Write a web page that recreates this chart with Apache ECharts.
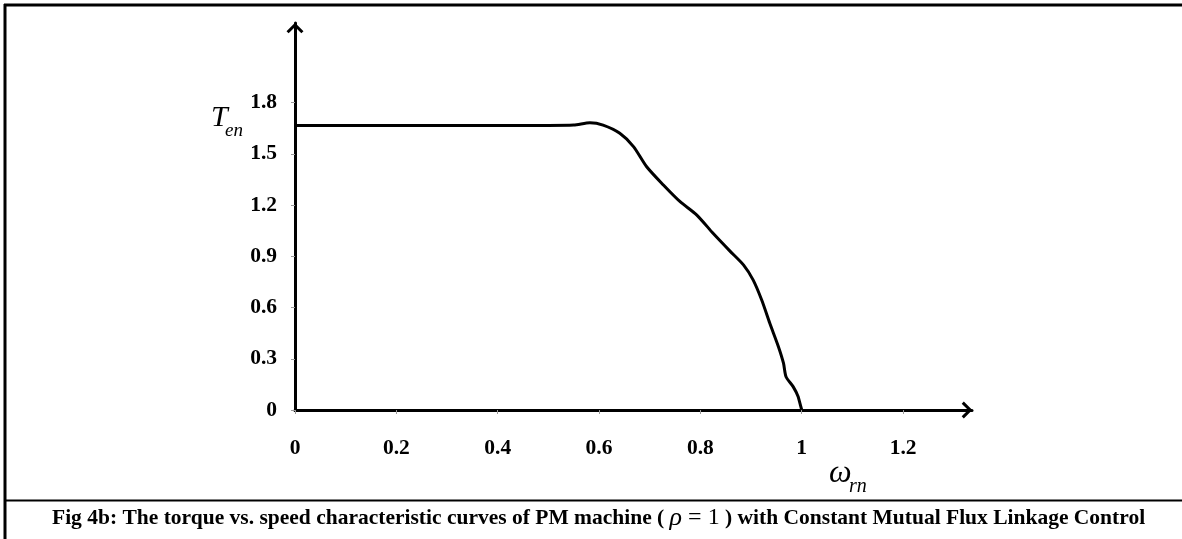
<!DOCTYPE html>
<html><head><meta charset="utf-8">
<script src="https://cdn.jsdelivr.net/npm/echarts@6/dist/echarts.min.js"></script>
<style>html,body{margin:0;padding:0;background:#fff}#c{width:1182px;height:539px}</style>
</head><body><div id="c"></div>
<script>
// normalised rotor speed (x) and normalised torque (y)
const speed  = [0, 0.1, 0.2, 0.3, 0.4, 0.5, 0.55, 0.582, 0.608, 0.641, 0.668, 0.694, 0.727, 0.76, 0.793, 0.825, 0.858, 0.885, 0.904, 0.921, 0.937, 0.954, 0.964, 0.969, 0.983, 0.993, 1.0];
const torque = [1.667, 1.667, 1.667, 1.667, 1.667, 1.667, 1.669, 1.683, 1.669, 1.621, 1.543, 1.425, 1.318, 1.22, 1.142, 1.035, 0.932, 0.85, 0.762, 0.644, 0.508, 0.371, 0.274, 0.195, 0.137, 0.078, 0];
const xTicks = [0, 0.2, 0.4, 0.6, 0.8, 1, 1.2];
const yTicks = [0, 0.3, 0.6, 0.9, 1.2, 1.5, 1.8];
const captionBefore = 'Fig 4b: The torque vs. speed characteristic curves of PM machine ( ';
const captionRho = 'ρ';
const captionEq = ' = 1';
const captionAfter = ' ) with Constant Mutual Flux Linkage Control';

const chev = 'path://M10,0 L20,10 L17.5,12.5 L10,5 L2.5,12.5 L0,10 Z';
const serif = '"Liberation Serif", "Times New Roman", serif';
const chart = echarts.init(document.getElementById('c'), null, {renderer: 'canvas'});
const lbl = {fontFamily: serif, fontWeight: 'bold', fontSize: 21.5, color: '#000'};
chart.setOption({
  animation: false,
  backgroundColor: '#fff',
  grid: {left: 295, right: 210, top: 23, bottom: 129, containLabel: false},
  xAxis: {
    type: 'value', min: 0, max: 1.336, interval: 0.2,
    axisLine: {show: true, onZero: true, lineStyle: {color: '#000', width: 3},
      symbol: ['none', chev], symbolSize: [17, 10.6], symbolOffset: [0, -5]},
    axisTick: {show: true, length: 4, lineStyle: {color: '#999', width: 1}, customValues: xTicks},
    axisLabel: Object.assign({margin: 27, customValues: xTicks, formatter: v => String(v)}, lbl),
    splitLine: {show: false}
  },
  yAxis: {
    type: 'value', min: 0, max: 2.267, interval: 0.3,
    axisLine: {show: true, lineStyle: {color: '#000', width: 3},
      symbol: ['none', chev], symbolSize: [17, 10.6], symbolOffset: [0, -5]},
    axisTick: {show: true, length: 4, lineStyle: {color: '#999', width: 1}, customValues: yTicks},
    axisLabel: Object.assign({margin: 18, customValues: yTicks, formatter: v => String(v)}, lbl),
    splitLine: {show: false}
  },
  series: [{
    type: 'line', data: speed.map((s, i) => [s, torque[i]]),
    showSymbol: false, smooth: 0.25,
    lineStyle: {color: '#000', width: 3}, z: 5
  }],
  graphic: [
    {type: 'line', shape: {x1: 5, y1: 4, x2: 5, y2: 539}, style: {stroke: '#000', lineWidth: 3}},
    {type: 'line', shape: {x1: 4, y1: 5, x2: 1182, y2: 5}, style: {stroke: '#000', lineWidth: 3}},
    {type: 'line', shape: {x1: 4, y1: 500.5, x2: 1182, y2: 500.5}, style: {stroke: '#000', lineWidth: 2}},
    {type: 'text', x: 211, y: 118, style: {text: 'T', font: 'italic 30px ' + serif, fill: '#000', verticalAlign: 'middle'}},
    {type: 'text', x: 225, y: 130.5, style: {text: 'en', font: 'italic 19px ' + serif, fill: '#000', verticalAlign: 'middle'}},
    {type: 'text', x: 829, y: 474, style: {text: 'ω', font: 'italic 32px ' + serif, fill: '#000', verticalAlign: 'middle'}},
    {type: 'text', x: 849, y: 486.5, style: {text: 'rn', font: 'italic 20px ' + serif, fill: '#000', verticalAlign: 'middle'}},
    {type: 'text', x: 52, y: 518, style: {
      text: '{b|' + captionBefore + '}{r|' + captionRho + '}{n|' + captionEq + '}{b|' + captionAfter + '}',
      verticalAlign: 'middle', fill: '#000',
      rich: {
        b: {fontFamily: serif, fontWeight: 'bold', fontSize: 21.5, fill: '#000'},
        r: {fontFamily: serif, fontStyle: 'italic', fontSize: 26, fill: '#000'},
        n: {fontFamily: serif, fontSize: 24, fill: '#000'}
      }}}
  ]
});
</script></body></html>
